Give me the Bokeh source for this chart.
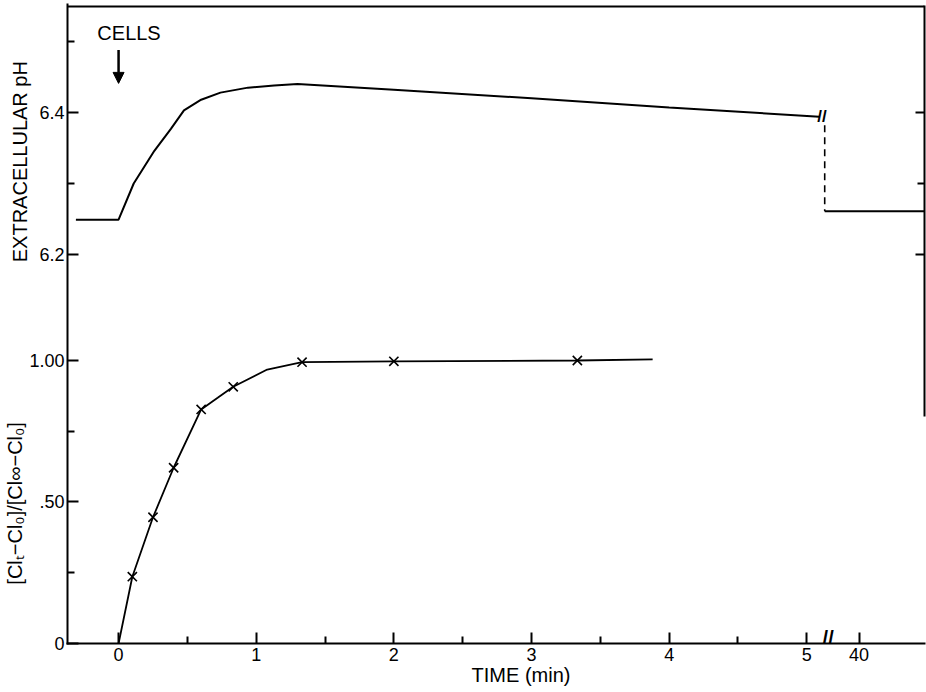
from bokeh.plotting import figure
from bokeh.layouts import column
from bokeh.models import Range1d, LinearAxis, FixedTicker, Label, Span, Arrow, NormalHead
from bokeh.embed import file_html
from bokeh.resources import INLINE

FONT = "Liberation Sans"
NB = "\u00a0"

# ---------------- data ----------------
# extracellular pH trace, time in min (before the axis break)
ph_time = [-0.31, 0.0, 0.11, 0.26, 0.38, 0.475, 0.60, 0.74, 0.94, 1.13, 1.30, 2.0, 3.0, 4.0, 5.09]
ph_value = [6.249, 6.249, 6.300, 6.346, 6.377, 6.403, 6.418, 6.428, 6.435, 6.438, 6.440, 6.432, 6.420, 6.407, 6.394]
# pH after the break (around 40 min)
ph_late_time = [39.75, 40.6]
ph_late_value = [6.261, 6.261]

# chloride equilibration, [Cl_t - Cl_0]/[Cl_inf - Cl_0]
cl_time = [0.1, 0.25, 0.4, 0.6, 0.833, 1.333, 2.0, 3.333]
cl_frac = [0.236, 0.446, 0.621, 0.827, 0.907, 0.994, 0.997, 1.000]
cl_curve_time = [0.0, 0.1, 0.25, 0.4, 0.6, 0.72, 0.833, 1.08, 1.333, 2.0, 3.333, 3.88]
cl_curve_frac = [0.0, 0.236, 0.446, 0.621, 0.827, 0.868, 0.907, 0.968, 0.994, 0.997, 1.000, 1.004]

x_major_ticks = [0, 1, 2, 3, 4, 5]
x_minor_ticks = [0.5, 1.5, 2.5, 3.5, 4.5]
x_late_tick = 40           # label after the break
frac_major_ticks = [0.0, 0.5, 1.0]
frac_major_labels = ["0", ".50", "1.00"]
frac_minor_ticks = [0.25, 0.75]
ph_major_ticks = [6.2, 6.4]
ph_minor_ticks = [6.3, 6.5]
cells_time = 0.0

# ---------------- scales ----------------
X_START, X_END = -0.371, 5.855
POS_40 = 5.38                     # axis position of the "40 min" tick
def late_axis(t):
    return POS_40 + (t - x_late_tick)

PH_START, PH_END = 6.0859, 6.5521
PH_TOP_LINE = 6.5493
F_START, F_END = 0.0, 1.0883

xr = Range1d(X_START, X_END)

def style_axis(ax, major_in=11, minor_in=7):
    ax.axis_line_width = 2
    ax.axis_line_color = "black"
    ax.axis_line_cap = "square"
    ax.major_tick_in = major_in
    ax.major_tick_out = 0
    ax.minor_tick_in = minor_in
    ax.minor_tick_out = 0
    ax.major_tick_line_width = 2
    ax.minor_tick_line_width = 2
    ax.major_tick_line_color = "black"
    ax.minor_tick_line_color = "black"
    ax.major_label_text_font = FONT
    ax.major_label_text_font_size = "18px"
    ax.major_label_text_color = "black"
    ax.axis_label_text_font = FONT
    ax.axis_label_text_font_style = "normal"
    ax.axis_label_text_color = "black"

def base_fig(h, yr, top, bottom):
    f = figure(width=926, height=h, x_range=xr, y_range=yr, output_backend="svg",
               toolbar_location=None, min_border_left=67, min_border_right=2,
               min_border_top=top, min_border_bottom=bottom, title=None,
               x_axis_type=None, y_axis_type=None)
    f.grid.visible = False
    f.outline_line_color = None
    f.background_fill_color = "white"
    f.border_fill_color = "white"
    return f

# ================= top panel: extracellular pH =================
top = base_fig(335, Range1d(PH_START, PH_END), 4, 0)

ly = LinearAxis(ticker=FixedTicker(ticks=ph_major_ticks, minor_ticks=ph_minor_ticks),
                bounds=(PH_START, PH_END))
style_axis(ly)
ly.major_label_standoff = 3
ly.axis_label = NB * 3 + "EXTRACELLULAR pH"
ly.axis_label_text_font_size = "20px"
ly.axis_label_standoff = 5
top.add_layout(ly, "left")

ry = LinearAxis(ticker=FixedTicker(ticks=ph_major_ticks, minor_ticks=[6.3]),
                bounds=(PH_START, PH_TOP_LINE))
style_axis(ry, major_in=9, minor_in=7)
ry.major_label_text_font_size = "1px"
ry.major_label_text_alpha = 0
ry.major_label_standoff = 0
top.add_layout(ry, "right")

top.add_layout(Span(location=PH_TOP_LINE, dimension="width", line_color="black", line_width=2))

top.line(ph_time, ph_value, line_color="black", line_width=2)
brk_x = late_axis(ph_late_time[0])
top.line([brk_x, brk_x], [ph_value[-1] - 0.012, ph_late_value[0]],
         line_color="black", line_width=1.6, line_dash="7 5")
top.line([late_axis(t) for t in ph_late_time], ph_late_value, line_color="black", line_width=2)
top.add_layout(Label(x=(ph_time[-1] + brk_x) / 2, y=ph_value[-1], text="//",
                     text_align="center", text_baseline="middle", text_font=FONT,
                     text_font_size="17px", text_font_style="bold", text_color="black"))

top.add_layout(Arrow(x_start=cells_time, y_start=6.488, x_end=cells_time, y_end=6.441,
                     line_color="black", line_width=2.5,
                     end=NormalHead(size=11, fill_color="black", line_color="black")))
top.add_layout(Label(x=cells_time + 0.076, y=6.497, text="CELLS",
                     text_align="center", text_baseline="bottom", text_font=FONT,
                     text_font_size="20px", text_color="black"))

# ================= bottom panel: chloride =================
bot = base_fig(692 - 335, Range1d(F_START, F_END), 0, 49)

by = LinearAxis(ticker=FixedTicker(ticks=frac_major_ticks, minor_ticks=frac_minor_ticks),
                bounds=(F_START, F_END))
style_axis(by)
by.major_label_standoff = 3
by.major_label_overrides = {v: s for v, s in zip(frac_major_ticks, frac_major_labels)}
by.axis_label = "[Clₜ−Cl₀]/[Cl∞−Cl₀]" + NB * 5
by.axis_label_text_font_size = "20px"
by.axis_label_standoff = 0
bot.add_layout(by, "left")

rb = LinearAxis(ticker=FixedTicker(ticks=[]), bounds=(0.806, F_END))
style_axis(rb)
rb.major_label_text_font_size = "1px"
rb.major_label_standoff = 0
bot.add_layout(rb, "right")

bx = LinearAxis(ticker=FixedTicker(ticks=x_major_ticks + [late_axis(x_late_tick)],
                                   minor_ticks=x_minor_ticks))
style_axis(bx)
bx.major_label_standoff = 4
bx.major_label_overrides = {late_axis(x_late_tick): str(x_late_tick)}
bx.axis_label = NB * 9 + "TIME (min)"
bx.axis_label_text_font_size = "20px"
bx.axis_label_standoff = 0
bot.add_layout(bx, "below")

bot.add_layout(Label(x=(x_major_ticks[-1] + late_axis(x_late_tick)) / 2 - 0.035, y=0.02,
                     text="//", text_align="center", text_baseline="middle",
                     text_font=FONT, text_font_size="20px", text_font_style="bold",
                     text_color="black"))

bot.line(cl_curve_time, cl_curve_frac, line_color="black", line_width=1.8)
bot.scatter(cl_time, cl_frac, marker="x", size=13, line_color="black", line_width=1.6)

layout = column(top, bot, spacing=0)
open("out.html", "w").write(file_html(layout, INLINE))
